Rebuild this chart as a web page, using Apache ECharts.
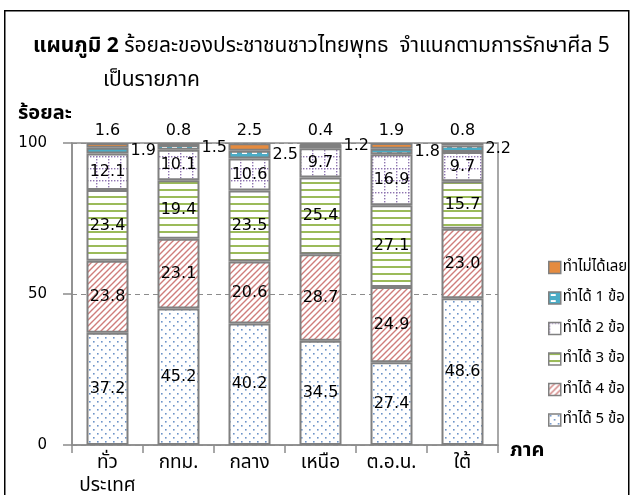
<!DOCTYPE html>
<html>
<head>
<meta charset="utf-8">
<script src="https://cdn.jsdelivr.net/npm/echarts@6/dist/echarts.min.js"></script>
<style>
  html, body { margin: 0; padding: 0; background: #fff; }
  #chart { width: 632px; height: 495px; }
</style>
</head>
<body>
<div id="chart"></div>
<script>
var regions = ["ทั่ว\nประเทศ", "กทม.", "กลาง", "เหนือ", "ต.อ.น.", "ใต้"];
var seriesNames = ["ทำได้ 5 ข้อ", "ทำได้ 4 ข้อ", "ทำได้ 3 ข้อ", "ทำได้ 2 ข้อ", "ทำได้ 1 ข้อ", "ทำไม่ได้เลย"];
var keep5 = [37.2, 45.2, 40.2, 34.5, 27.4, 48.6];
var keep4 = [23.8, 23.1, 20.6, 28.7, 24.9, 23.0];
var keep3 = [23.4, 19.4, 23.5, 25.4, 27.1, 15.7];
var keep2 = [12.1, 10.1, 10.6, 9.7, 16.9, 9.7];
var keep1 = [1.9, 1.5, 2.5, 1.2, 1.8, 2.2];
var keep0 = [1.6, 0.8, 2.5, 0.4, 1.9, 0.8];
var yTicks = [0, 50, 100];

var FONT = "'DejaVu Sans', 'Noto Sans', sans-serif";
var THAI = "'Noto Sans Thai', 'Tahoma', 'Noto Sans', 'DejaVu Sans', sans-serif";

// small canvas tiles used as fill patterns
function makeTile(w, h, draw) {
    var c = document.createElement("canvas");
    c.width = w;
    c.height = h;
    var ctx = c.getContext("2d");
    ctx.fillStyle = "#fff";
    ctx.fillRect(0, 0, w, h);
    draw(ctx);
    return { image: c, repeat: "repeat" };
}

var fillDots = makeTile(8, 8, function (ctx) {
    ctx.fillStyle = "#6d93c8";
    ctx.fillRect(1, 1, 1.6, 1.6);
    ctx.fillRect(5, 5, 1.6, 1.6);
});
var fillHatch = makeTile(6, 6, function (ctx) {
    ctx.strokeStyle = "#cf7d7b";
    ctx.lineWidth = 1.4;
    ctx.beginPath();
    ctx.moveTo(-1, 7); ctx.lineTo(7, -1);
    ctx.moveTo(-1, 1); ctx.lineTo(1, -1);
    ctx.moveTo(5, 7); ctx.lineTo(7, 5);
    ctx.stroke();
});
var fillStripes = makeTile(8, 7, function (ctx) {
    ctx.fillStyle = "#9bbb59";
    ctx.fillRect(0, 0, 8, 2);
});
var fillGrid = makeTile(12, 12, function (ctx) {
    ctx.fillStyle = "#8e74b0";
    for (var i = 0; i < 12; i += 3) {
        ctx.fillRect(0, i, 1.4, 1.4);
        ctx.fillRect(i, 0, 1.4, 1.4);
    }
});
var fillDash = makeTile(10, 6, function (ctx) {
    ctx.fillStyle = "#4bacc6";
    ctx.fillRect(0, 0, 10, 6);
    ctx.fillStyle = "#fff";
    ctx.fillRect(2, 2, 5, 2);
});
var fillSolid = "#e58b3f";

var fills = [fillDots, fillHatch, fillStripes, fillGrid, fillDash, fillSolid];
var values = [keep5, keep4, keep3, keep2, keep1, keep0];

var series = [];
for (var i = 0; i < values.length; i++) {
    var lbl = {
        show: true, position: "inside", color: "#000", fontSize: 16, fontFamily: FONT,
        formatter: function (p) { return p.value.toFixed(1); }
    };
    if (i == 4) {
        lbl.position = "right";
        lbl.distance = 2;
    }
    if (i == 5) {
        lbl.position = "top";
        lbl.distance = 4;
    }
    series.push({
        name: seriesNames[i],
        type: "bar",
        stack: "total",
        barWidth: 42,
        data: values[i],
        itemStyle: { color: fills[i], borderColor: "#808080", borderWidth: 2 },
        label: lbl,
        emphasis: { disabled: true }
    });
}

var myChart = echarts.init(document.getElementById("chart"), null, { renderer: "canvas" });
myChart.setOption({
    animation: false,
    backgroundColor: "#fff",
    grid: {
        left: 72, right: 134, top: 143, bottom: 50,
        outerBoundsMode: "none", containLabel: false,
        show: true, borderColor: "#8c8c8c", borderWidth: 1.5, backgroundColor: "transparent"
    },
    legend: {
        orient: "vertical",
        left: 548,
        top: 259,
        padding: 0,
        icon: "rect",
        itemWidth: 12,
        itemHeight: 12,
        itemGap: 13.5,
        data: seriesNames.slice().reverse(),
        itemStyle: { borderColor: "#808080", borderWidth: 1.5 },
        textStyle: { fontSize: 15, fontFamily: THAI, color: "#000", lineHeight: 17, padding: [0, 0, 0, -3] }
    },
    xAxis: {
        type: "category",
        data: regions,
        axisLine: { lineStyle: { color: "#8c8c8c", width: 1.5 } },
        axisTick: { show: true, length: 8, lineStyle: { color: "#8c8c8c", width: 1.5 } },
        axisLabel: { color: "#000", fontSize: 19, fontFamily: THAI, margin: 8, lineHeight: 23, interval: 0 }
    },
    yAxis: {
        type: "value",
        min: yTicks[0],
        max: yTicks[yTicks.length - 1],
        interval: yTicks[1] - yTicks[0],
        axisLine: { show: true, lineStyle: { color: "#8c8c8c", width: 1.5 } },
        axisTick: { show: true, length: 9, lineStyle: { color: "#8c8c8c", width: 1.5 } },
        axisLabel: { color: "#000", fontSize: 15, fontFamily: FONT, margin: 25 },
        splitLine: { show: true, lineStyle: { color: "#8c8c8c", type: [5, 4], width: 1.2 } }
    },
    graphic: [
        {
            type: "rect", left: 4, top: 10, z: -10,
            shape: { width: 624, height: 500 },
            style: { fill: "#fff", stroke: "#000", lineWidth: 1.5 }
        },
        {
            type: "text", left: 33, top: 37,
            style: {
                text: "{b|แผนภูมิ 2} ร้อยละของประชาชนชาวไทยพุทธ  จำแนกตามการรักษาศีล 5",
                font: "21px " + THAI, fill: "#000",
                rich: { b: { fontWeight: "bold", fontSize: 21, fontFamily: THAI } }
            }
        },
        {
            type: "text", left: 103, top: 71,
            style: { text: "เป็นรายภาค", font: "21px " + THAI, fill: "#000" }
        },
        {
            type: "text", left: 18, top: 105,
            style: { text: "ร้อยละ", font: "bold 20px " + THAI, fill: "#000" }
        },
        {
            type: "text", left: 510, top: 442,
            style: { text: "ภาค", font: "bold 20px " + THAI, fill: "#000" }
        }
    ],
    series: series
});
</script>
</body>
</html>
